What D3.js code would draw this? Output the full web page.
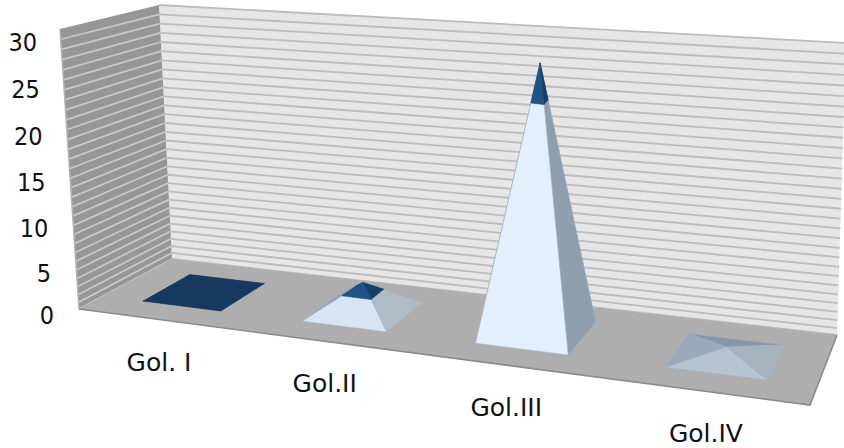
<!DOCTYPE html>
<html>
<head>
<meta charset="utf-8">
<script src="https://cdnjs.cloudflare.com/ajax/libs/d3/7.8.5/d3.min.js"></script>
<style>
  html, body { margin: 0; background: #fff; }
  text { font-family: "DejaVu Sans", sans-serif; fill: #111; }
  .ytick { font-family: "DejaVu Sans Condensed", "DejaVu Sans", sans-serif; font-stretch: condensed; }
</style>
</head>
<body>
<div id="chart"></div>
<script>
const categories = ['Gol. I', 'Gol.II', 'Gol.III', 'Gol.IV'];
const lowerValues = [0, 2.5, 24, 1.2];
const upperValues = [0.02, 1.3, 4, 0];
const yTicks = [0, 5, 10, 15, 20, 25, 30];

const width = 844, height = 448;

// chart box corners on screen: front-left, front-right, back-right, back-left
const floorQuad = [[79, 309], [810, 405], [837, 335], [172, 259]];
const ceilQuad = [[60, 29], [852, 80], [846, 43], [159, 5]];

// square -> quad projection
function homography(q) {
  const [[x0, y0], [x1, y1], [x2, y2], [x3, y3]] = q;
  const dx1 = x1 - x2, dx2 = x3 - x2, sx = x0 - x1 + x2 - x3;
  const dy1 = y1 - y2, dy2 = y3 - y2, sy = y0 - y1 + y2 - y3;
  const den = dx1 * dy2 - dx2 * dy1;
  const g = (sx * dy2 - dx2 * sy) / den, h = (dx1 * sy - sx * dy1) / den;
  const a = x1 - x0 + g * x1, b = x3 - x0 + h * x3;
  const d = y1 - y0 + g * y1, e = y3 - y0 + h * y3;
  return (u, v) => {
    const w = g * u + h * v + 1;
    return [(a * u + b * v + x0) / w, (d * u + e * v + y0) / w];
  };
}
const floorAt = homography(floorQuad), ceilAt = homography(ceilQuad);

const xScale = d3.scaleBand().domain(categories).range([0.004, 1.004]).paddingInner(0.5).paddingOuter(0.25);
const zScale = d3.scaleLinear().domain([0, 1]).range([0.24, 0.76]);
const yScale = d3.scalePow().exponent(1.1).domain([0, 30]).range([0, 1]);

// u across, v depth, value up
function project(u, v, value) {
  const f = floorAt(u, v), c = ceilAt(u, v), t = yScale(value);
  return [f[0] + (c[0] - f[0]) * t, f[1] + (c[1] - f[1]) * t];
}

const svg = d3.select('#chart').append('svg').attr('width', width).attr('height', height);
const path = d => 'M' + d.map(p => p[0].toFixed(1) + ',' + p[1].toFixed(1)).join('L') + 'Z';
const mix = (a, b, k) => [a[0] + (b[0] - a[0]) * k, a[1] + (b[1] - a[1]) * k];

// walls
svg.append('path').attr('d', path([project(0, 1, 0), project(1, 1, 0), project(1, 1, 30), project(0, 1, 30)])).attr('fill', '#e6e6e6');
svg.append('path').attr('d', path([project(0, 0, 0), project(0, 1, 0), project(0, 1, 30), project(0, 0, 30)])).attr('fill', '#969696');

// gridlines, one per unit
d3.range(0, 31).forEach(v => {
  const back0 = project(0, 1, v), back1 = project(1, 1, v), front = project(0, 0, v);
  svg.append('line').attr('x1', back0[0]).attr('y1', back0[1]).attr('x2', back1[0]).attr('y2', back1[1])
    .attr('stroke', '#bcbcbc').attr('stroke-width', 1.8);
  if (v < 30) svg.append('line').attr('x1', front[0]).attr('y1', front[1]).attr('x2', back0[0]).attr('y2', back0[1])
    .attr('stroke', '#c8c8c8').attr('stroke-width', 1.8);
});
svg.append('line').datum([project(0, 0, 0), project(0, 0, 30)])
  .attr('x1', d => d[0][0]).attr('y1', d => d[0][1]).attr('x2', d => d[1][0]).attr('y2', d => d[1][1])
  .attr('stroke', '#b4b4b4').attr('stroke-width', 1.5);

// floor
svg.append('path').attr('d', path(floorQuad)).attr('fill', '#aeaeae');
svg.append('path').attr('d', 'M' + floorQuad[0] + 'L' + floorQuad[1] + 'L' + floorQuad[2])
  .attr('fill', 'none').attr('stroke', '#8a8a8a').attr('stroke-width', 1.6);

// face colours: back, left, right, front
const lowerFaces = [
  ['#8fa0b0', '#8fa0b0', '#8fa0b0', '#dde9f5'],
  ['#8fa0b0', '#8fa0b0', '#aebcc8', '#d7e5f3'],
  ['#8fa0b0', '#8fa0b0', '#8f9eac', '#e2f0fd'],
  ['#8797a8', '#9aaabb', '#a6b4c0', '#b6c4d1']
];
const upperFaces = ['#1f3f63', '#1f3f63', '#173f66', '#17395f'];
const upperFront = ['#17395f', '#1f5388', '#1f5388', '#17395f'];

categories.forEach((c, i) => {
  const u0 = xScale(c), u1 = u0 + xScale.bandwidth();
  const v0 = zScale(0), v1 = zScale(1);
  const total = lowerValues[i] + upperValues[i];
  const apex = project((u0 + u1) / 2, (v0 + v1) / 2, total);
  const base = [project(u0, v0, 0), project(u1, v0, 0), project(u1, v1, 0), project(u0, v1, 0)];
  const k = lowerValues[i] / total;
  const cut = base.map(p => mix(p, apex, k));
  // corner pairs for back, left, right, front faces
  const faces = [[2, 3], [3, 0], [1, 2], [0, 1]];
  faces.forEach((f, j) => {
    if (k > 0) svg.append('path').attr('d', path([base[f[0]], base[f[1]], cut[f[1]], cut[f[0]]]))
      .attr('fill', lowerFaces[i][j]).attr('stroke', '#9fb0c0').attr('stroke-width', 0.6);
  });
  if (upperValues[i] > 0) faces.forEach((f, j) => {
    svg.append('path').attr('d', path([cut[f[0]], cut[f[1]], apex]))
      .attr('fill', j === 3 ? upperFront[i] : upperFaces[j])
      .attr('stroke', j === 3 ? upperFront[i] : upperFaces[j]).attr('stroke-width', 0.5);
  });
  if (i === 0) svg.append('path').attr('d', path(base)).attr('fill', '#17395f');
});

// value labels sit on their own slanted line left of the box
const labelX = d3.scaleLinear().domain([0, 30]).range([54, 37]);
const labelY = d3.scalePow().exponent(1.04).domain([0, 30]).range([324, 51]);
svg.selectAll('.ytick').data(yTicks).enter().append('text')
  .attr('class', 'ytick')
  .attr('x', d => labelX(d))
  .attr('y', d => labelY(d))
  .attr('text-anchor', 'end')
  .style('font-size', '25px')
  .text(d => d);

// category labels
svg.selectAll('.xlabel').data(categories).enter().append('text')
  .attr('class', 'xlabel')
  .attr('x', d => project(xScale(d) + xScale.bandwidth() / 2, 0, 0)[0])
  .attr('y', d => project(xScale(d) + xScale.bandwidth() / 2, 0, 0)[1] + 51)
  .attr('text-anchor', 'middle')
  .style('font-size', '25px')
  .text(d => d);
</script>
</body>
</html>
